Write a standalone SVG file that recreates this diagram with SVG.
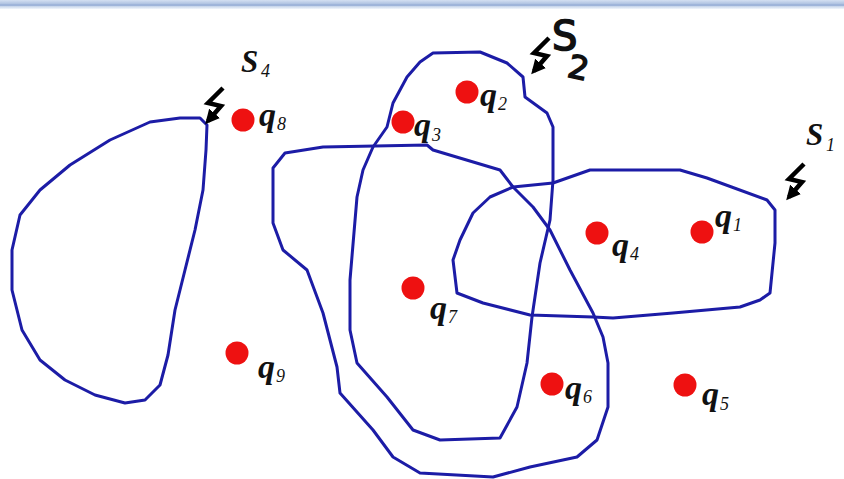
<svg xmlns="http://www.w3.org/2000/svg" width="844" height="479" viewBox="0 0 844 479">
<defs>
<linearGradient id="bar" x1="0" y1="0" x2="0" y2="1">
<stop offset="0" stop-color="#d4e0f2"/>
<stop offset="0.5" stop-color="#a9bedf"/>
<stop offset="1" stop-color="#f2f7fc"/>
</linearGradient>
<marker id="ah" viewBox="0 0 10 10" refX="7" refY="5" markerWidth="3.2" markerHeight="3.2" orient="auto">
<path d="M0,0 L10,5 L0,10 z" fill="#000"/>
</marker>
<path id="bolt" d="M19,-38 L4,-23 L17,-20 L4,-5" fill="none" stroke="#000" stroke-width="4.5" stroke-linejoin="miter" marker-end="url(#ah)"/>
</defs>
<style>
.set{fill:none;stroke:#1c1ca6;stroke-width:3;stroke-linejoin:round;stroke-linecap:round}
.pt{fill:#ee1111}
.q{font-family:"Liberation Serif","DejaVu Serif",serif;font-style:italic;font-weight:bold;font-size:34px;fill:#111}
.sub{font-family:"Liberation Serif","DejaVu Serif",serif;font-style:italic;font-size:18px;fill:#111}
.lab{font-family:"Liberation Serif","DejaVu Serif",serif;font-style:italic;font-weight:bold;font-size:31px;fill:#111}
.hand{font-family:"DejaVu Sans",sans-serif;fill:#111;stroke:#111;stroke-width:1.6}
</style>
<rect x="0" y="0" width="844" height="479" fill="#ffffff"/>
<rect x="0" y="0" width="844" height="9" fill="url(#bar)"/>
<rect x="0" y="4" width="844" height="2" fill="#9fb5da"/>

<g id="connectors">
<path id="S4-curve" class="set" d="M207,125 L200,118 L180,118 L150,122 L110,140 L70,165 L40,190 L20,215 L12,250 L12,290 L22,330 L40,360 L65,380 L95,395 L125,403 L145,400 L160,385 L168,355 L175,310 L185,270 L195,230 L203,190 L206,150 Z"/>
<path id="S2-curve" class="set" d="M433,53 L480,52 L507,63 L523,77 L525,97 L547,113 L553,127 L553,180 L550,220 L540,263 L532,317 L527,363 L517,407 L500,438 L440,440 L413,430 L387,397 L357,363 L350,330 L350,280 L357,197 L363,170 L373,147 L387,127 L393,103 L407,77 L420,62 Z"/>
<path id="S3-curve" class="set" d="M285,153 L323,147 L427,145 L433,150 L500,170 L513,187 L533,207 L550,230 L570,270 L593,313 L603,337 L608,363 L608,407 L597,440 L577,457 L530,467 L493,477 L420,473 L393,457 L373,430 L340,393 L337,367 L323,313 L307,270 L283,250 L273,223 L273,168 Z"/>
<path id="S1-curve" class="set" d="M513,187 L553,183 L590,170 L680,170 L707,178 L767,200 L775,210 L775,243 L770,293 L760,300 L740,307 L673,313 L613,318 L593,317 L530,315 L483,303 L457,293 L453,260 L460,240 L473,213 L490,197 Z"/>
</g>

<g id="S4">
<use href="#bolt" x="204" y="126"/>
<text class="lab" x="241" y="72">S</text><text class="sub" x="261" y="77">4</text>
</g>
<g id="S2">
<use href="#bolt" x="530" y="76"/>
<text class="hand" x="552" y="50" font-size="40">S</text>
<text class="hand" x="568" y="80" font-size="32" transform="rotate(12 584 70)">2</text>
</g>
<g id="S1">
<use href="#bolt" x="785" y="202"/>
<text class="lab" x="806" y="145">S</text><text class="sub" x="826" y="151">1</text>
</g>

<g id="q1"><circle class="pt" cx="702" cy="232" r="11.5"/><text class="q" x="715" y="227">q</text><text class="sub" x="733" y="231">1</text></g>
<g id="q2"><circle class="pt" cx="467" cy="92" r="11.5"/><text class="q" x="480" y="106">q</text><text class="sub" x="498" y="110">2</text></g>
<g id="q3"><circle class="pt" cx="403" cy="122" r="11.5"/><text class="q" x="414" y="136">q</text><text class="sub" x="432" y="141">3</text></g>
<g id="q4"><circle class="pt" cx="597" cy="233" r="11.5"/><text class="q" x="612" y="256">q</text><text class="sub" x="630" y="260">4</text></g>
<g id="q5"><circle class="pt" cx="685" cy="385" r="11.5"/><text class="q" x="702" y="405">q</text><text class="sub" x="720" y="410">5</text></g>
<g id="q6"><circle class="pt" cx="552" cy="384" r="11.5"/><text class="q" x="565" y="399">q</text><text class="sub" x="583" y="403">6</text></g>
<g id="q7"><circle class="pt" cx="413" cy="288" r="11.5"/><text class="q" x="430" y="319">q</text><text class="sub" x="448" y="323">7</text></g>
<g id="q8"><circle class="pt" cx="243" cy="120" r="11.5"/><text class="q" x="259" y="126">q</text><text class="sub" x="277" y="130">8</text></g>
<g id="q9"><circle class="pt" cx="237" cy="353" r="11.5"/><text class="q" x="258" y="378">q</text><text class="sub" x="276" y="382">9</text></g>
</svg>
